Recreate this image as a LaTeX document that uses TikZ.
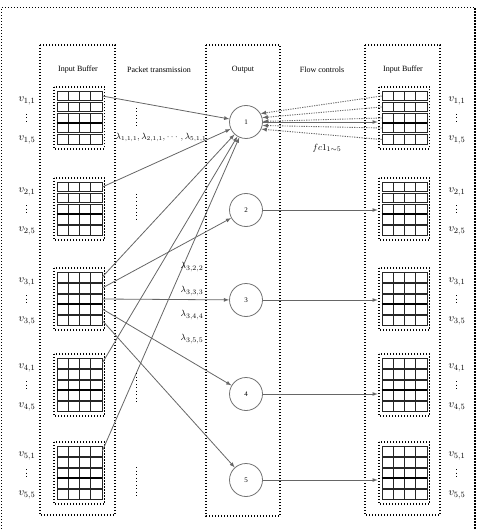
\documentclass[tikz,border=0pt]{standalone}
\usepackage{fontspec}
\setmainfont{Liberation Serif}
\usepackage{amsmath}
\usetikzlibrary{arrows}
\usetikzlibrary{positioning}

\begin{document}
\begin{tikzpicture}[x=1pt,y=-1pt,
  dotbox/.style={draw,line width=1.3pt,dash pattern=on 1.3pt off 1.7pt},
  bufrow/.style={draw=black!85,line width=0.6pt,minimum width=45pt,minimum height=9.6pt,inner sep=0pt},
  outnode/.style={draw=black!55,line width=0.8pt,circle,minimum size=33pt,inner sep=0pt,font=\fontsize{7}{8}\selectfont},
  head/.style={font=\fontsize{8}{9}\selectfont},
  vlab/.style={font=\fontsize{11}{12}\selectfont,inner sep=0pt},
  lab/.style={font=\fontsize{9.5}{11}\selectfont,inner sep=0pt},
  pkt/.style={draw=black!60,line width=0.8pt,-latex},
  fc/.style={draw=black!60,line width=0.9pt,dash pattern=on 1.2pt off 1.2pt,-latex},
  vdot/.style={line width=0.9pt,dash pattern=on 0.9pt off 2.6pt}]
  \useasboundingbox (0,0) rectangle (483,529);
  % frames
  \draw[dotbox] (1.5,529) -- (1.5,7.5) -- (475,7.5) -- (475,529);
  \draw[dotbox] (40,45) rectangle (115,515);
  \draw[dotbox] (206,45) rectangle (280,516);
  \draw[dotbox] (365,45) rectangle (440,515);
  \node[head] (h1) at (78,70) {Input Buffer};
  \node[head] (h2) at (159,70) {Packet transmission};
  \node[head] (h3) at (243,70) {Output};
  \node[head] (h4) at (322,70) {Flow controls};
  \node[head] (h5) at (403,70) {Input Buffer};
  % buffers
  \foreach \k/\t in {1/91,2/182,3/272,4/358,5/446}{
    \foreach \s/\x/\lx in {L/79.5/27,R/404.5/457}{
      \draw[dotbox] (\x-25.5,\t-4) rectangle (\x+25,\t+58);
      \foreach \r/\o in {1/5,2/16,3/27,4/37,5/48.5}{
        \node[bufrow] (\s\k-\r) at (\x,\t+\o) {};
        \draw[black!85,line width=0.6pt] (\s\k-\r.north) -- (\s\k-\r.south)
          ([xshift=-11.25pt]\s\k-\r.north) -- ([xshift=-11.25pt]\s\k-\r.south)
          ([xshift=11.25pt]\s\k-\r.north) -- ([xshift=11.25pt]\s\k-\r.south);
      }
      \draw[line width=1.3pt] (\s\k-4.north west) -- (\s\k-4.north east);
      \node[vlab] (v\s\k a) at (\lx,\t+10) {$v_{\k,1}$};
      \draw[vdot] (\lx-1,\t+23) -- (\lx-1,\t+33);
      \node[vlab] (v\s\k c) at (\lx,\t+49) {$v_{\k,5}$};
    }
  }
  % outputs
  \node[outnode] (o1) at (246,122) {1};
  \node[outnode] (o2) at (246,210) {2};
  \node[outnode] (o3) at (246,300) {3};
  \node[outnode] (o4) at (246,394) {4};
  \node[outnode] (o5) at (246,480) {5};
  \draw[pkt] (L1-1.east) -- (o1);
  \draw[pkt] (L2-1.east) -- (o1);
  \draw[pkt] (L3-1.east) -- (o1);
  \draw[pkt] (L4-1.east) -- (o1);
  \draw[pkt] (L5-1.east) -- (o1);
  \draw[pkt] (L3-2.east) -- (o2);
  \draw[pkt] (L3-3.east) -- (o3);
  \draw[pkt] (L3-4.east) -- (o4);
  \draw[pkt] (L3-5.east) -- (o5);
  \foreach \k in {1,...,5}
    \draw[pkt,shorten >=4pt] (o\k) -- (o\k -| R\k-3.west);
  \draw[fc] (R1-1.west) -- (o1.30);
  \draw[fc] (R1-2.west) -- (o1.15);
  \draw[fc] (R1-3.west) -- (o1.2);
  \draw[fc] (R1-4.west) -- (o1.-12);
  \draw[fc] (R1-5.west) -- (o1.-25);
  % labels
  \node[lab,font=\fontsize{8.6}{10}\selectfont] (lam1) at (161,137) {$\lambda_{1,1,1}, \lambda_{2,1,1}, \cdots, \lambda_{5,1,1}$};
  \node[lab] (lam2) at (192,267) {$\lambda_{3,2,2}$};
  \node[lab] (lam3) at (192,291) {$\lambda_{3,3,3}$};
  \node[lab] (lam4) at (192,315) {$\lambda_{3,4,4}$};
  \node[lab] (lam5) at (192,339) {$\lambda_{3,5,5}$};
  \node[lab] (fc1) at (327,148) {$fc1_{1\sim5}$};
  \foreach \a/\b in {108/127,194/220,373/402,467/496}
    \draw[vdot] (136,\a) -- (136,\b);
\end{tikzpicture}
\end{document}
